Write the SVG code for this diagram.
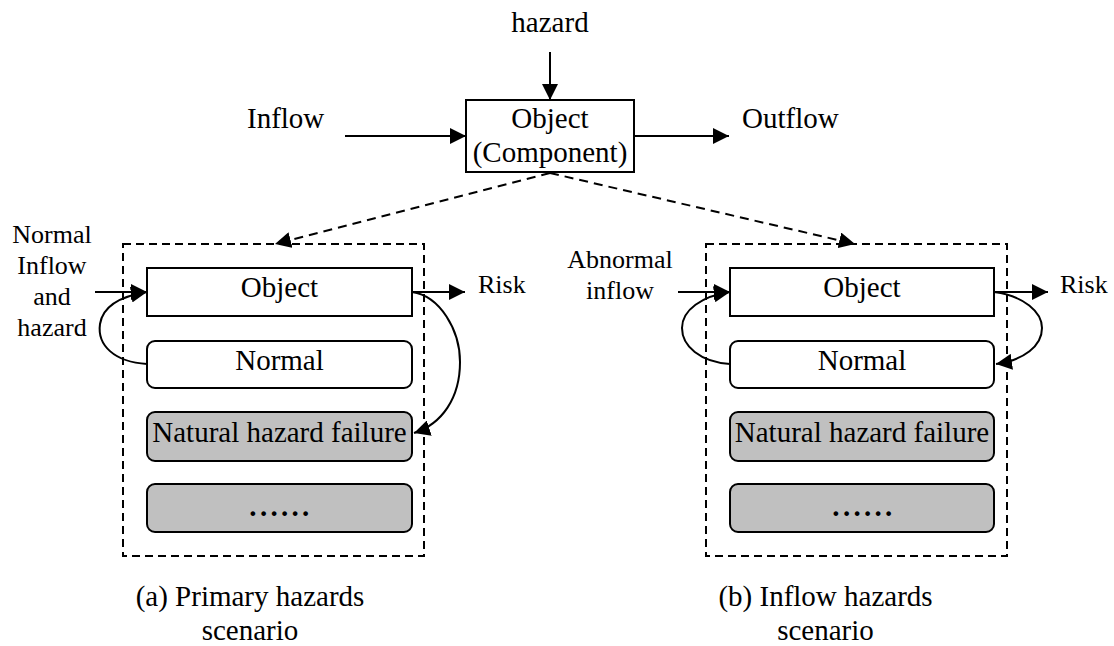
<svg xmlns="http://www.w3.org/2000/svg" width="1114" height="646" viewBox="0 0 1114 646">
<style>
text{font-family:"Liberation Serif","Times New Roman",serif;fill:#000}
.t{font-size:29px}
.s{font-size:26px}
.m{text-anchor:middle}
.box{fill:#fff;stroke:#000;stroke-width:2}
.grey{fill:#c0c0c0;stroke:#000;stroke-width:2}
.frame{fill:none;stroke:#000;stroke-width:2;stroke-dasharray:8 5}
.ln{fill:none;stroke:#000;stroke-width:2}
.dash{fill:none;stroke:#000;stroke-width:2;stroke-dasharray:9 6}
.dots{font-size:29px;font-weight:bold;letter-spacing:3.3px}
</style>
<defs>
<marker id="ah" markerUnits="userSpaceOnUse" markerWidth="17" markerHeight="16" refX="16" refY="8" orient="auto">
<path d="M0,0 L16,8 L0,16 z" fill="#000" stroke="none"/>
</marker>
</defs>

<g id="top-labels">
<text class="t m" x="550" y="32">hazard</text>
<text class="t" x="247" y="128">Inflow</text>
<text class="t" x="742" y="128">Outflow</text>
</g>

<g id="component">
<rect class="box" x="466" y="100" width="168" height="72"/>
<text class="t m" x="550" y="128">Object</text>
<text class="t m" x="550" y="162">(Component)</text>
</g>

<g id="panel-a">
<rect class="frame" x="123" y="244" width="301" height="312"/>
<g id="a-object"><rect class="box" x="147" y="268" width="265" height="48"/><text class="t m" x="279.5" y="297">Object</text></g>
<g id="a-normal"><rect class="box" x="147" y="341" width="265" height="47" rx="8"/><text class="t m" x="279.5" y="370">Normal</text></g>
<g id="a-natural"><rect class="grey" x="147" y="412" width="265" height="49" rx="8"/><text class="t m" x="279.5" y="442">Natural hazard failure</text></g>
<g id="a-more"><rect class="grey" x="147" y="484" width="265" height="48" rx="8"/><text class="dots m" x="281" y="516">......</text></g>
<g id="a-labels">
<text class="s m" x="52" y="243">Normal</text>
<text class="s m" x="52" y="274">Inflow</text>
<text class="s m" x="52" y="305">and</text>
<text class="s m" x="52" y="336">hazard</text>
<text class="s" x="478" y="293">Risk</text>
</g>
<text class="t m" x="250" y="606">(a) Primary hazards</text>
<text class="t m" x="250" y="640">scenario</text>
</g>

<g id="panel-b">
<rect class="frame" x="706" y="244" width="301" height="312"/>
<g id="b-object"><rect class="box" x="730" y="268" width="264" height="48"/><text class="t m" x="862" y="297">Object</text></g>
<g id="b-normal"><rect class="box" x="730" y="341" width="264" height="47" rx="8"/><text class="t m" x="862" y="370">Normal</text></g>
<g id="b-natural"><rect class="grey" x="730" y="412" width="264" height="49" rx="8"/><text class="t m" x="862" y="442">Natural hazard failure</text></g>
<g id="b-more"><rect class="grey" x="730" y="484" width="264" height="48" rx="8"/><text class="dots m" x="864" y="516">......</text></g>
<g id="b-labels">
<text class="s m" x="620" y="268">Abnormal</text>
<text class="s m" x="620" y="299">inflow</text>
<text class="s" x="1060" y="293">Risk</text>
</g>
<text class="t m" x="825.5" y="606">(b) Inflow hazards</text>
<text class="t m" x="825.5" y="640">scenario</text>
</g>

<g id="connectors">
<line class="ln" x1="550" y1="52" x2="550" y2="100" marker-end="url(#ah)"/>
<line class="ln" x1="345" y1="136" x2="466" y2="136" marker-end="url(#ah)"/>
<line class="ln" x1="634" y1="136" x2="729" y2="136" marker-end="url(#ah)"/>
<line class="dash" x1="550" y1="173" x2="275" y2="244" marker-end="url(#ah)"/>
<line class="dash" x1="550" y1="173" x2="855" y2="244" marker-end="url(#ah)"/>

<line class="ln" x1="95" y1="292" x2="147" y2="292" marker-end="url(#ah)"/>
<path class="ln" d="M147,364 C114,362 97,345 100,324 C103,305 122,296 147,292" marker-end="url(#ah)"/>
<line class="ln" x1="412" y1="292" x2="465" y2="292" marker-end="url(#ah)"/>
<path class="ln" d="M412,292 C440,296 460,330 460,362 C460,398 442,424 414,433" marker-end="url(#ah)"/>

<line class="ln" x1="678" y1="292" x2="730" y2="292" marker-end="url(#ah)"/>
<path class="ln" d="M730,364 C700,362 682,346 682,328 C682,310 702,296 730,292" marker-end="url(#ah)"/>
<line class="ln" x1="994" y1="292" x2="1048" y2="292" marker-end="url(#ah)"/>
<path class="ln" d="M994,292 C1024,296 1042,312 1042,328 C1042,346 1024,360 996,364" marker-end="url(#ah)"/>
</g>
</svg>
